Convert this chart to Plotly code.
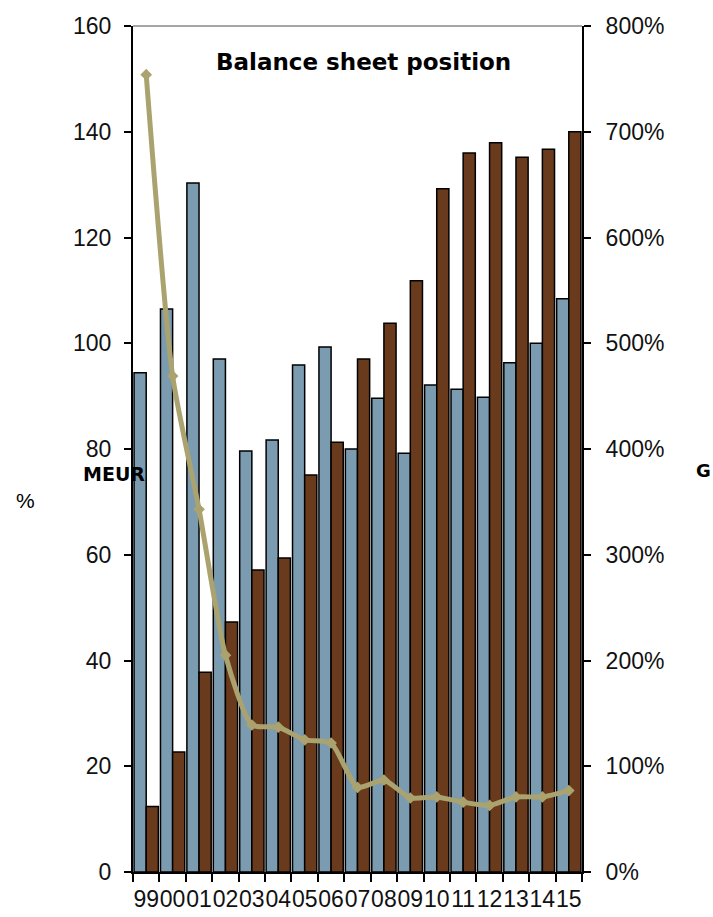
import plotly.graph_objects as go

years = ["99", "00", "01", "02", "03", "04", "05", "06", "07", "08",
         "09", "10", "11", "12", "13", "14", "15"]
series_a = [94.4, 106.5, 130.3, 97.0, 79.6, 81.7, 95.9, 99.3, 80.0, 89.6,
            79.2, 92.1, 91.3, 89.8, 96.3, 100.0, 108.4]
series_b = [12.4, 22.7, 37.8, 47.3, 57.1, 59.4, 75.1, 81.3, 97.0, 103.8,
            111.8, 129.2, 136.0, 137.9, 135.2, 136.7, 140.0]
ratio_pct = [754, 469, 343, 205, 139, 137, 125, 122, 80, 87,
             70, 71, 66, 63, 71, 71, 77]

W, H = 713, 917
L, R, T, B = 133, 582, 26, 872

def px(x):
    return (x - L) / (R - L)

def py(y):
    return (B - y) / (B - T)

FONT = "Liberation Sans"
BOLD = "DejaVu Sans"

fig = go.Figure()
fig.add_trace(go.Bar(x=years, y=series_a, marker=dict(color="#7b9bb0", line=dict(color="#000000", width=1.5)),
                     showlegend=False))
fig.add_trace(go.Bar(x=years, y=series_b, marker=dict(color="#693a1c", line=dict(color="#000000", width=1.5)),
                     showlegend=False))
fig.add_trace(go.Scatter(x=years, y=ratio_pct, yaxis="y2", mode="lines+markers",
                         line=dict(color="#aba36f", width=5, shape="spline", smoothing=0.6),
                         marker=dict(symbol="diamond", size=9, color="#aba36f"),
                         showlegend=False))

fig.update_layout(
    width=W, height=H,
    margin=dict(l=L, r=W - R, t=T, b=H - B, pad=0),
    paper_bgcolor="white", plot_bgcolor="white",
    barmode="group", bargap=0.08, bargroupgap=0.0,
    font=dict(family=FONT, size=23, color="#111111"),
    xaxis=dict(type="category", showgrid=False, showline=True, linecolor="black", linewidth=1.5,
               ticks="outside", ticklen=8, tickwidth=1.5, tickcolor="black", tickson="boundaries",
               tickmode="array", tickvals=years, ticktext=years,
               tickangle=0, tickfont=dict(size=23), automargin=False, range=[-0.5, 16.5],
               ticklabelstandoff=6),
    yaxis=dict(range=[0, 160], dtick=20, showgrid=False, showline=True, linecolor="black", linewidth=2,
               ticks="outside", ticklen=7, tickwidth=1.5, tickcolor="black", zeroline=False,
               tickfont=dict(size=23), automargin=False, ticklabelstandoff=8),
    yaxis2=dict(range=[0, 800], dtick=100, ticksuffix="%", overlaying="y", side="right",
                showgrid=False, showline=True, linecolor="black", linewidth=2,
                ticks="outside", ticklen=7, tickwidth=1.5, tickcolor="black", zeroline=False,
                tickfont=dict(size=23), automargin=False, ticklabelstandoff=10),
    shapes=[dict(type="line", xref="paper", yref="paper", x0=0, x1=1, y0=1, y1=1,
                 line=dict(color="#888888", width=1.5))],
    annotations=[
        dict(text="<b>Balance sheet position</b>", xref="paper", yref="paper",
             x=px(363), y=py(62), xanchor="center", yanchor="middle", showarrow=False,
             font=dict(family=BOLD, size=23, color="black")),
        dict(text="<b>MEUR</b>", xref="paper", yref="paper",
             x=px(81), y=py(474), xanchor="left", yanchor="middle", showarrow=False,
             font=dict(family=BOLD, size=19, color="black")),
        dict(text="%", xref="paper", yref="paper",
             x=px(14), y=py(500), xanchor="left", yanchor="middle", showarrow=False,
             font=dict(family=FONT, size=21, color="black")),
        dict(text="<b>G</b>", xref="paper", yref="paper",
             x=px(713), y=py(470), xanchor="right", yanchor="middle", showarrow=False,
             font=dict(family=BOLD, size=18, color="black")),
    ],
)

fig.write_html("out.html")
